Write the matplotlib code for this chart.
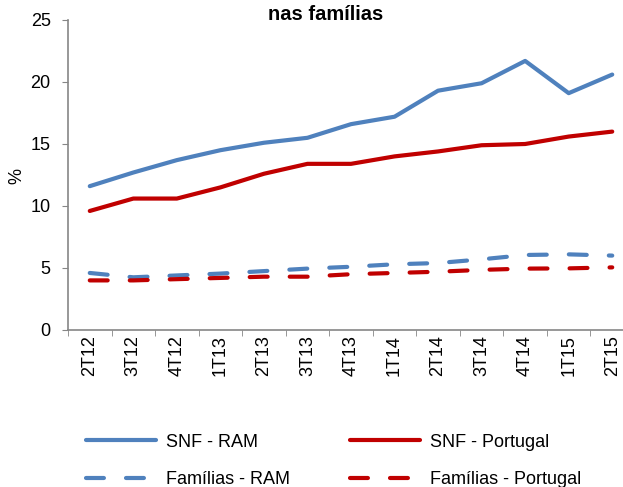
import matplotlib.pyplot as plt
from matplotlib.ticker import FixedLocator

plt.rcParams['font.family'] = ['Liberation Sans', 'DejaVu Sans']

quarters = ["2T12", "3T12", "4T12", "1T13", "2T13", "3T13", "4T13",
            "1T14", "2T14", "3T14", "4T14", "1T15", "2T15"]
snf_ram = [11.6, 12.7, 13.7, 14.5, 15.1, 15.5, 16.6, 17.2, 19.3, 19.9, 21.7, 19.1, 20.6]
snf_pt = [9.6, 10.6, 10.6, 11.5, 12.6, 13.4, 13.4, 14.0, 14.4, 14.9, 15.0, 15.6, 16.0]
fam_ram = [4.6, 4.25, 4.4, 4.55, 4.75, 4.95, 5.1, 5.3, 5.4, 5.7, 6.05, 6.1, 6.0]
fam_pt = [4.0, 4.0, 4.1, 4.2, 4.3, 4.3, 4.5, 4.6, 4.7, 4.85, 4.95, 4.97, 5.05]

BLUE = "#4F81BD"
RED = "#C00000"
GRAY = "#868686"
FS = 13

fig = plt.figure(figsize=(6.23, 4.87), dpi=100)
ax = fig.add_axes([68 / 623, 157 / 487, 566 / 623, 310 / 487])

x = list(range(len(quarters)))
lw = 3.0
dash = (4.3, 5.3)
ax.plot(x, snf_ram, color=BLUE, lw=lw, solid_capstyle='round', label="SNF - RAM")
ax.plot(x, snf_pt, color=RED, lw=lw, solid_capstyle='round', label="SNF - Portugal")
ax.plot(x, fam_ram, color=BLUE, lw=lw, dashes=dash, dash_capstyle='round',
        label="Famílias - RAM")
ax.plot(x, fam_pt, color=RED, lw=lw, dashes=dash, dash_capstyle='round',
        label="Famílias - Portugal")

ax.set_xlim(-0.5, len(quarters) - 0.5)
ax.set_ylim(0, 25)
ax.set_yticks([0, 5, 10, 15, 20, 25])

ax.set_xticks(x)
ax.set_xticklabels(quarters, rotation=90, fontsize=FS)
ax.xaxis.set_minor_locator(FixedLocator([i - 0.5 for i in range(len(quarters) + 1)]))
ax.tick_params(axis='x', which='major', length=0, pad=4)
ax.tick_params(axis='x', which='minor', length=4.5, color=GRAY, direction='out')
ax.tick_params(axis='y', length=4.5, color=GRAY, labelsize=FS, pad=8)

for side in ('top', 'right'):
    ax.spines[side].set_visible(False)
for side in ('left', 'bottom'):
    ax.spines[side].set_color(GRAY)
    ax.spines[side].set_linewidth(1.2)

ax.set_ylabel("%", fontsize=FS)
ax.yaxis.set_label_coords((25 - 68) / 566, (330 - 176) / 310)
fig.text(326 / 623, 1 - 20 / 487, "nas famílias", ha='center', va='baseline',
         fontsize=14.5, fontweight='bold')

handles, labels = ax.get_legend_handles_labels()
order = [0, 2, 1, 3]
fig.legend([handles[i] for i in order], [labels[i] for i in order], ncol=2,
           loc='center left', bbox_to_anchor=(86 / 623, 1 - 461 / 487),
           borderaxespad=0, borderpad=0,
           frameon=False, fontsize=FS, handlelength=3.9, handletextpad=0.55,
           columnspacing=3.3, labelspacing=1.15)

fig.savefig("out.png", dpi=100)
